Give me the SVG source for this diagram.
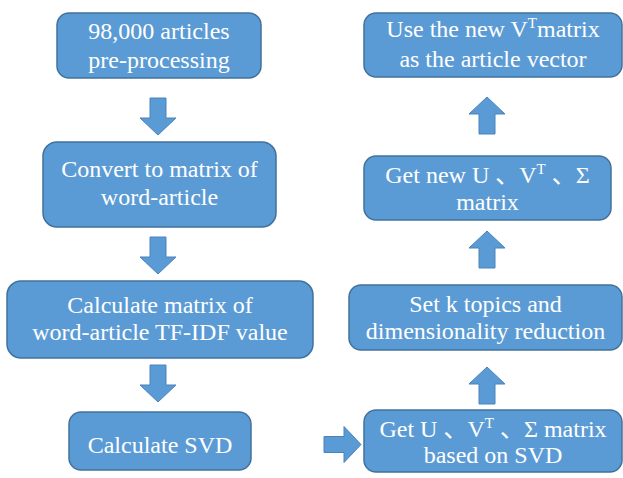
<svg xmlns="http://www.w3.org/2000/svg" width="623" height="478" viewBox="0 0 623 478">
  <style>
    .box { fill: #5B9BD5; stroke: #41719C; stroke-width: 1.5; }
    .arrow { fill: #5B9BD5; stroke: #4A83BC; stroke-width: 1; }
  </style>
  <defs>
    <!-- block arrow pointing down, top edge at origin -->
    <path id="blockArrow" d="M -8 0 L 8 0 L 8 20 L 18 20 L 0 37 L -18 20 L -8 20 Z"/>
  </defs>
  <rect width="623" height="478" fill="#FFFFFF"/>

  <g id="connectors">
    <use href="#blockArrow" class="arrow" transform="translate(158,98)"/>
    <use href="#blockArrow" class="arrow" transform="translate(158,237)"/>
    <use href="#blockArrow" class="arrow" transform="translate(158,365)"/>
    <use href="#blockArrow" class="arrow" transform="translate(324,444.5) rotate(-90)"/>
    <use href="#blockArrow" class="arrow" transform="translate(487,404) rotate(180)"/>
    <use href="#blockArrow" class="arrow" transform="translate(487,268) rotate(180)"/>
    <use href="#blockArrow" class="arrow" transform="translate(487,134) rotate(180)"/>
  </g>

  <g id="preprocess">
    <rect class="box" x="57" y="13" width="204" height="65" rx="12"/>
    <text x="159" y="39" font-family="Liberation Serif" font-size="24" fill="#FFFFFF" text-anchor="middle">98,000 articles</text>
    <text x="159" y="68" font-family="Liberation Serif" font-size="24" fill="#FFFFFF" text-anchor="middle">pre-processing</text>
  </g>

  <g id="convert">
    <rect class="box" x="43" y="142" width="233" height="85" rx="14"/>
    <text x="159.5" y="177" font-family="Liberation Serif" font-size="24" fill="#FFFFFF" text-anchor="middle">Convert to matrix of</text>
    <text x="159.5" y="205" font-family="Liberation Serif" font-size="24" fill="#FFFFFF" text-anchor="middle">word-article</text>
  </g>

  <g id="tfidf">
    <rect class="box" x="7" y="281" width="306" height="77" rx="14"/>
    <text x="160" y="313" font-family="Liberation Serif" font-size="24" fill="#FFFFFF" text-anchor="middle">Calculate matrix of</text>
    <text x="160" y="340" font-family="Liberation Serif" font-size="24" fill="#FFFFFF" text-anchor="middle">word-article TF-IDF value</text>
  </g>

  <g id="svd">
    <rect class="box" x="69" y="412" width="182" height="58" rx="12"/>
    <text x="160" y="453" font-family="Liberation Serif" font-size="24" fill="#FFFFFF" text-anchor="middle">Calculate SVD</text>
  </g>

  <g id="getusv">
    <rect class="box" x="364" y="410" width="258" height="62" rx="12"/>
    <text x="493" y="437" font-family="Liberation Serif, Noto Sans CJK SC, serif" font-size="24" fill="#FFFFFF" text-anchor="middle">Get U 、V<tspan font-size="15" dy="-9">T</tspan><tspan dy="9"> 、Σ  matrix</tspan></text>
    <text x="493" y="463" font-family="Liberation Serif" font-size="24" fill="#FFFFFF" text-anchor="middle">based on SVD</text>
  </g>

  <g id="reduce">
    <rect class="box" x="349" y="285" width="273" height="65" rx="12"/>
    <text x="485.5" y="312" font-family="Liberation Serif" font-size="24" fill="#FFFFFF" text-anchor="middle">Set k topics and</text>
    <text x="485.5" y="339" font-family="Liberation Serif" font-size="24" fill="#FFFFFF" text-anchor="middle">dimensionality reduction</text>
  </g>

  <g id="newusv">
    <rect class="box" x="364" y="156" width="247" height="64" rx="12"/>
    <text x="487.5" y="183" font-family="Liberation Serif, Noto Sans CJK SC, serif" font-size="24" fill="#FFFFFF" text-anchor="middle">Get new U 、V<tspan font-size="15" dy="-9">T</tspan><tspan dy="9"> 、Σ</tspan></text>
    <text x="487.5" y="210" font-family="Liberation Serif" font-size="24" fill="#FFFFFF" text-anchor="middle">matrix</text>
  </g>

  <g id="vector">
    <rect class="box" x="364" y="13" width="258" height="64" rx="12"/>
    <text x="493" y="37" font-family="Liberation Serif" font-size="24" fill="#FFFFFF" text-anchor="middle">Use the new V<tspan font-size="15" dy="-9">T</tspan><tspan dy="9">matrix</tspan></text>
    <text x="493" y="67" font-family="Liberation Serif" font-size="24" fill="#FFFFFF" text-anchor="middle">as the article vector</text>
  </g>
</svg>
